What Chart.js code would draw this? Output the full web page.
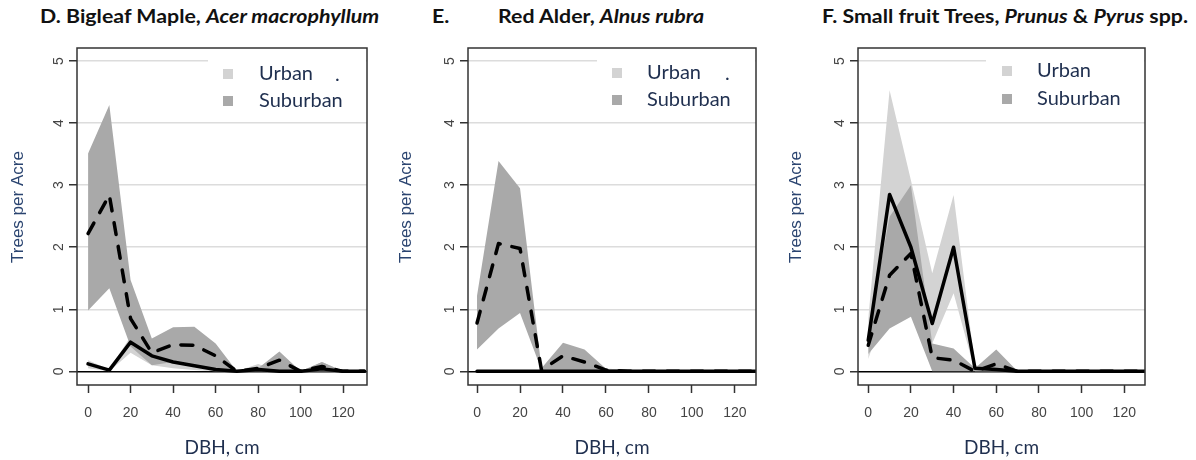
<!DOCTYPE html>
<html>
<head>
<meta charset="utf-8">
<script src="https://cdn.jsdelivr.net/npm/chart.js@4.4.1/dist/chart.umd.min.js"></script>
<style>
body { margin:0; background:#fff; width:1196px; height:460px; position:relative; overflow:hidden; }
canvas { position:absolute; top:0; }
.ttl { position:absolute; top:6px; font:bold 18px Lato, sans-serif; line-height:20px; color:#111; white-space:nowrap;
       transform:scaleX(1.185); transform-origin:left top; }
</style>
</head>
<body>
<div class="ttl" style="left:40px">D. Bigleaf Maple, <i>Acer macrophyllum</i></div>
<div class="ttl" style="left:432px">E.</div>
<div class="ttl" style="left:498px">Red Alder, <i>Alnus rubra</i></div>
<div class="ttl" style="left:822px">F. Small fruit Trees, <i>Prunus</i> &amp; <i>Pyrus</i> spp.</div>
<canvas id="cD" width="390" height="460" style="left:0"></canvas>
<canvas id="cE" width="390" height="460" style="left:390px"></canvas>
<canvas id="cF" width="416" height="460" style="left:780px"></canvas>
<script>
// DBH classes (cm)
const dbh = [0, 10, 20, 30, 40, 50, 60, 70, 80, 90, 100, 110, 120, 130];
const xTicks = [0, 20, 40, 60, 80, 100, 120];
const yTicks = [0, 1, 2, 3, 4, 5];

// D. Bigleaf Maple
const urbanMeanD = [0.12, 0.02, 0.47, 0.25, 0.15, 0.09, 0.03, 0, 0.03, 0, 0, 0.04, 0, 0];
const urbanLoD   = [0.05, 0, 0.30, 0.10, 0.05, 0.02, 0, 0, 0, 0, 0, 0, 0, 0];
const urbanHiD   = [0.18, 0.03, 0.56, 0.38, 0.22, 0.15, 0.07, 0, 0.12, 0, 0, 0.15, 0, 0];
const subMeanD   = [2.22, 2.84, 0.85, 0.30, 0.43, 0.42, 0.25, 0, 0.05, 0.18, 0, 0.08, 0, 0];
const subLoD     = [0.98, 1.34, 0.40, 0.10, 0.15, 0.10, 0.02, 0, 0, 0, 0, 0, 0, 0];
const subHiD     = [3.51, 4.29, 1.47, 0.53, 0.71, 0.72, 0.45, 0, 0.05, 0.32, 0, 0.15, 0, 0];

// E. Red Alder
const urbanMeanE = [0, 0, 0, 0, 0, 0, 0, 0, 0, 0, 0, 0, 0, 0];
const urbanLoE   = [0, 0, 0, 0, 0, 0, 0, 0, 0, 0, 0, 0, 0, 0];
const urbanHiE   = [0, 0, 0, 0, 0, 0, 0, 0, 0, 0, 0, 0, 0, 0];
const subMeanE   = [0.78, 2.06, 1.98, 0.02, 0.25, 0.15, 0.02, 0, 0, 0, 0, 0, 0, 0];
const subLoE     = [0.35, 0.69, 0.94, 0.02, 0.02, 0.02, 0.02, 0, 0, 0, 0, 0, 0, 0];
const subHiE     = [1.22, 3.39, 2.95, 0.05, 0.46, 0.35, 0.04, 0.03, 0, 0, 0, 0, 0, 0];

// F. Small fruit trees
const urbanMeanF = [0.50, 2.85, 2.00, 0.77, 2.00, 0.05, 0.03, 0, 0, 0, 0, 0, 0, 0];
const urbanLoF   = [0.20, 1.20, 1.00, 0.45, 1.26, 0, 0, 0, 0, 0, 0, 0, 0, 0];
const urbanHiF   = [0.85, 4.53, 3.08, 1.58, 2.84, 0.10, 0.05, 0, 0, 0, 0, 0, 0, 0];
const subMeanF   = [0.42, 1.55, 1.90, 0.22, 0.18, 0, 0.12, 0, 0, 0, 0, 0, 0, 0];
const subLoF     = [0.28, 0.69, 0.88, 0, 0, 0, 0, 0, 0, 0, 0, 0, 0, 0];
const subHiF     = [0.65, 2.49, 3.00, 0.45, 0.37, 0.05, 0.35, 0, 0, 0, 0, 0, 0, 0];

const legendLabels = ['Urban', 'Suburban'];
const URBAN = '#d3d3d3', SUBURBAN = '#a9a9a9', NAVY = '#1f2f4f';
const AXIS_FONT = '"Liberation Sans", Arial, sans-serif';

function pts(arr) { return dbh.map((x, i) => ({ x: x, y: arr[i] })); }

function band(arr, col, fill, order) {
  return { data: pts(arr), backgroundColor: col, borderColor: 'transparent', borderWidth: 1, fill: fill, order: order };
}
function meanLine(arr, dash) {
  return { data: pts(arr), borderColor: '#000', borderWidth: 3.5, borderDash: dash, borderCapStyle: 'round',
           borderJoinStyle: 'round', fill: false, order: 1 };
}

// legend with white box + plot frame
const boxLegend = {
  id: 'boxLegend',
  beforeDatasetsDraw(chart, args, o) {
    const a = chart.chartArea, c = chart.ctx;
    c.save();
    c.fillStyle = '#fff';
    c.fillRect(a.left + o.bg, a.top + 2, a.right - a.left - o.bg - 1, 62);
    c.font = '20px Lato';
    c.textBaseline = 'middle';
    [URBAN, SUBURBAN].forEach((col, i) => {
      const y = a.top + o.rows[i];
      c.fillStyle = col;
      c.fillRect(a.left + o.sq, y - 5, 10, 10);
      c.fillStyle = NAVY;
      c.fillText(legendLabels[i], a.left + o.txt, y);
    });
    if (o.dot) c.fillText('.', a.left + o.dot, a.top + o.rows[0] + 1);
    c.restore();
  },
  afterDraw(chart) {
    const a = chart.chartArea, c = chart.ctx;
    c.save();
    c.strokeStyle = '#333';
    c.lineWidth = 1.5;
    c.strokeRect(a.left, a.top, a.right - a.left, a.bottom - a.top);
    c.restore();
  }
};

function makeChart(id, p) {
  return new Chart(document.getElementById(id), {
    type: 'line',
    data: { datasets: [
      band(p.uHi, URBAN, '+1', 3), band(p.uLo, URBAN, false, 3),
      band(p.sHi, SUBURBAN, '+1', 2), band(p.sLo, SUBURBAN, false, 2),
      meanLine(p.uMean, []), meanLine(p.sMean, [12, 12])
    ] },
    plugins: [boxLegend],
    options: {
      responsive: false,
      animation: false,
      layout: { padding: { top: 48, right: p.padRight, left: 0, bottom: 0 } },
      elements: { point: { radius: 0 }, line: { tension: 0 } },
      plugins: { legend: { display: false }, tooltip: { enabled: false }, boxLegend: p.legend },
      scales: {
        x: {
          type: 'linear', min: p.xMin, max: p.xMax,
          afterBuildTicks: s => { s.ticks = xTicks.map(v => ({ value: v })); },
          afterFit: s => { s.height = 75; },
          border: { display: false },
          grid: { drawOnChartArea: false, tickLength: 8, tickColor: '#333', tickWidth: 1.5 },
          ticks: { autoSkip: false, maxRotation: 0, padding: 12, color: '#444',
                   font: { family: AXIS_FONT, size: 14 } },
          title: { display: true, text: 'DBH, cm', color: NAVY, padding: { top: 0, bottom: 2.5 },
                   font: { family: 'Lato, sans-serif', size: 19, lineHeight: 1 } }
        },
        y: {
          min: -0.22, max: 5.21,
          afterBuildTicks: s => { s.ticks = yTicks.map(v => ({ value: v })); },
          afterFit: s => { s.width = p.yWidth; },
          border: { display: false },
          grid: {
            color: ctx => ctx.tick && ctx.tick.value === 0 ? '#000' : '#dcdcdc',
            lineWidth: 1.5, tickLength: 8, tickColor: '#333', tickWidth: 1.5
          },
          ticks: { minRotation: 90, maxRotation: 90, crossAlign: 'center', padding: 6, color: '#444',
                   font: { family: AXIS_FONT, size: 14 } },
          title: { display: true, text: '    Trees per Acre', color: '#2a4470', padding: { top: p.yTitlePad },
                   font: { family: AXIS_FONT, size: 17, lineHeight: 1 } }
        }
      }
    }
  });
}

makeChart('cD', {
  uMean: urbanMeanD, uLo: urbanLoD, uHi: urbanHiD, sMean: subMeanD, sLo: subLoD, sHi: subHiD,
  xMin: -5.2, xMax: 131.2, yWidth: 77, padRight: 23, yTitlePad: 9.5,
  legend: { bg: 131, sq: 146, txt: 182, dot: 258, rows: [26, 53] }
});
makeChart('cE', {
  uMean: urbanMeanE, uLo: urbanLoE, uHi: urbanHiE, sMean: subMeanE, sLo: subLoE, sHi: subHiE,
  xMin: -4.2, xMax: 129.8, yWidth: 78, padRight: 24, yTitlePad: 8.2,
  legend: { bg: 129, sq: 144, txt: 179, dot: 257, rows: [25, 52] }
});
makeChart('cF', {
  uMean: urbanMeanF, uLo: urbanLoF, uHi: urbanHiF, sMean: subMeanF, sLo: subLoF, sHi: subHiF,
  xMin: -4.8, xMax: 129.7, yWidth: 78, padRight: 51, yTitlePad: 8.2,
  legend: { bg: 128, sq: 144, txt: 179, dot: 0, rows: [23, 51] }
});
</script>
</body>
</html>
